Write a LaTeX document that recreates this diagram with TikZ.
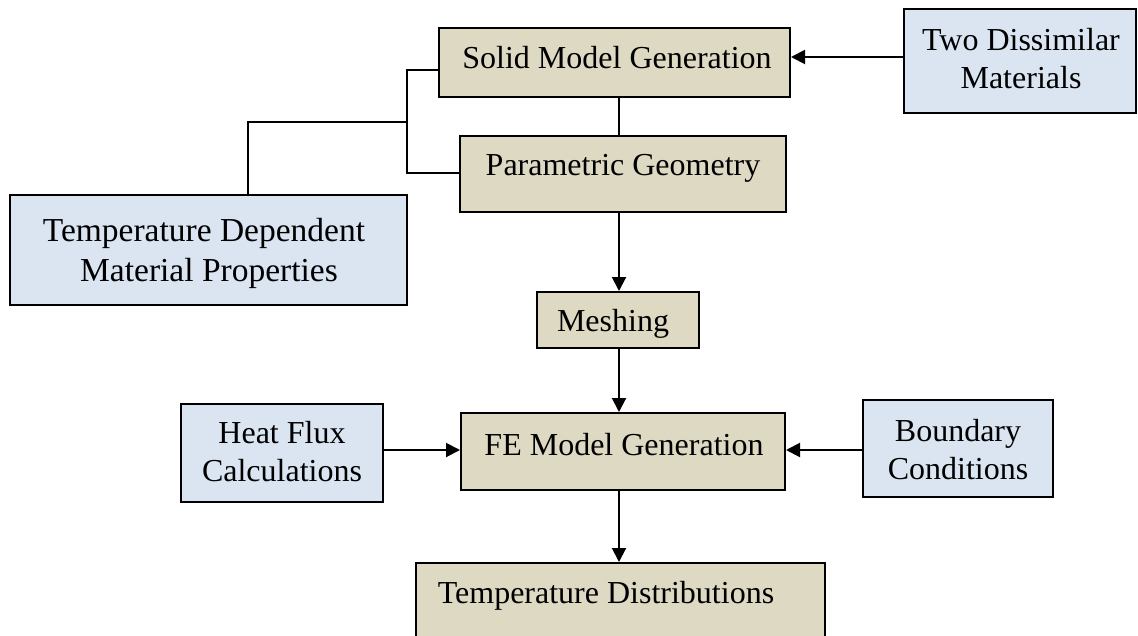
\documentclass[tikz,border=0pt]{standalone}
\usepackage{fontspec}
\setmainfont{Liberation Serif}
\usetikzlibrary{arrows.meta}
\definecolor{tanfill}{HTML}{DDD9C3}
\definecolor{bluefill}{HTML}{DBE5F1}
\begin{document}
\begin{tikzpicture}[x=1pt,y=-1pt,
  box/.style={draw=black,line width=2pt,rectangle,inner sep=0pt},
  tanbox/.style={box,fill=tanfill},
  bluebox/.style={box,fill=bluefill},
  txt/.style={anchor=base,inner sep=0pt,font=\fontsize{32}{38}\selectfont},
  bigtxt/.style={anchor=base,inner sep=0pt,font=\fontsize{33.5}{40}\selectfont},
  conn/.style={line width=2pt},
  arr/.style={conn,-{Triangle[length=14pt,width=14pt]}}]
\useasboundingbox (0,0) rectangle (1138,635);
% boxes
\node[tanbox,minimum width=351pt,minimum height=69pt] (sm) at (614.5,62.5) {};
\node[tanbox,minimum width=326pt,minimum height=76pt] (pg) at (623,174) {};
\node[bluebox,minimum width=397pt,minimum height=110pt] (tdm) at (208.5,250) {};
\node[bluebox,minimum width=232pt,minimum height=104pt] (two) at (1020,61) {};
\node[tanbox,minimum width=162pt,minimum height=56pt] (mesh) at (618,320) {};
\node[bluebox,minimum width=202pt,minimum height=98pt] (hf) at (282,453) {};
\node[tanbox,minimum width=324pt,minimum height=77pt] (fe) at (623,451.5) {};
\node[bluebox,minimum width=190pt,minimum height=97pt] (bc) at (958,448.5) {};
\node[tanbox,minimum width=409pt,minimum height=117pt] (tdist) at (620.5,621.5) {};
% texts
\node[txt] (smt) at (617,68) {Solid Model Generation};
\node[txt] (pgt) at (623,175) {Parametric Geometry};
\node[bigtxt] (tdt1) at (204,241) {Temperature Dependent};
\node[bigtxt] (tdt2) at (209,281) {Material Properties};
\node[txt] (twot1) at (1021,50) {Two Dissimilar};
\node[txt] (twot2) at (1021,88) {Materials};
\node[txt] (mesht) at (613,331) {Meshing};
\node[txt] (hft1) at (282,443) {Heat Flux};
\node[txt] (hft2) at (282,481) {Calculations};
\node[txt] (fet) at (624,455) {FE Model Generation};
\node[txt] (bct1) at (958,441) {Boundary};
\node[txt] (bct2) at (958,479) {Conditions};
\node[txt] (tdistt) at (606,603) {Temperature Distributions};
% junction coordinates
\coordinate (jx) at (407,122);
% connectors
\draw[arr] (two.west |- 0,57) -- (sm.east |- 0,57);
\draw[conn] (sm.south -| 619,0) -- (pg.north -| 619,0);
\draw[conn] ([yshift=-7.5pt]sm.west) -| (jx) |- (pg.west |- 0,173);
\draw[conn] (jx) -| (tdm.north -| 248,0);
\draw[arr] (pg.south -| 619,0) -- (mesh.north -| 619,0);
\draw[arr] (mesh.south -| 619,0) -- (fe.north -| 619,0);
\draw[arr] (hf.east |- 0,450) -- (fe.west |- 0,450);
\draw[arr] (bc.west |- 0,450) -- (fe.east |- 0,450);
\draw[arr] (fe.south -| 619,0) -- (tdist.north -| 619,0);
\end{tikzpicture}
\end{document}
